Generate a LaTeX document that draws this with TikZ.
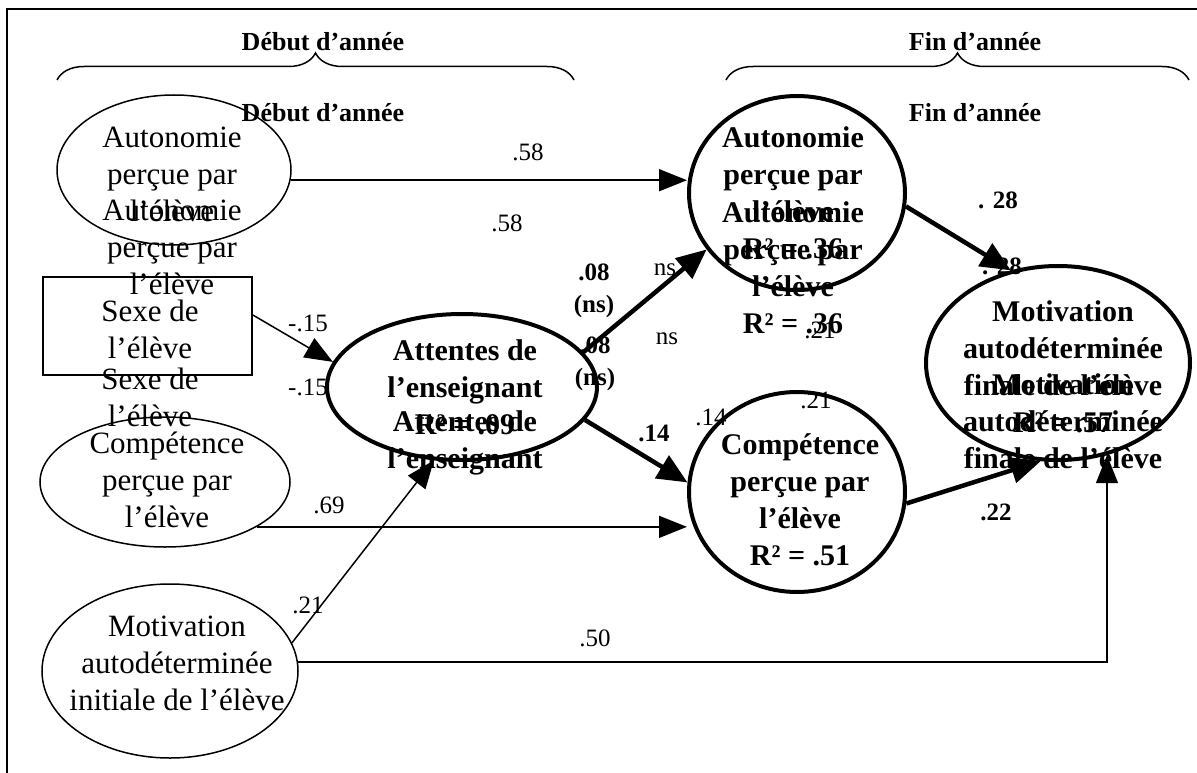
\documentclass[tikz,border=0pt]{standalone}
\usepackage{fontspec}
\setmainfont{Liberation Serif}
\usetikzlibrary{arrows.meta,decorations.pathreplacing,shapes.geometric}
\begin{document}
\begin{tikzpicture}[x=1pt,y=-1pt,
  reg/.style={font=\fontsize{31}{37}\selectfont, align=center, inner sep=0pt},
  bld/.style={font=\bfseries\fontsize{30}{37}\selectfont, align=center, inner sep=0pt},
  lab/.style={font=\fontsize{25}{30}\selectfont, inner sep=0pt},
  blab/.style={font=\bfseries\fontsize{25}{32}\selectfont, align=center, inner sep=0pt},
  hdr/.style={font=\bfseries\fontsize{26}{30}\selectfont, inner sep=0pt},
  oval/.style={ellipse, draw, line width=1.5pt, inner sep=0pt},
  boldoval/.style={ellipse, draw, line width=4pt, inner sep=0pt},
  thinarrow/.style={line width=1.5pt, -{Triangle[length=28pt,width=22pt]}},
  thickarrow/.style={line width=4.5pt, -{Triangle[length=30pt,width=26pt]}},
  bracepath/.style={decorate, decoration={brace, amplitude=27pt}, line width=1.5pt},
]
\useasboundingbox (0,0) rectangle (1197,773);

% frame (top and left edges)
\draw[line width=2pt] (7,773) -- (7,9) -- (1197,9);

% period headers and braces
\node[hdr] (hdebut) at (323,42) {Début d’année};
\node[hdr] (hfin) at (975,42) {Fin d’année};
\draw[bracepath] (57,80) -- (574,80);
\draw[bracepath] (726,80) -- (1189,80);
\node[hdr] (hdebutb) at (323,113) {Début d’année};
\node[hdr] (hfinb) at (975,113) {Fin d’année};

% shapes
\node[oval, minimum width=234pt, minimum height=150pt] (a1) at (174,170) {};
\node[draw, line width=1.5pt, minimum width=209pt, minimum height=98pt, inner sep=0pt] (sx) at (147.5,326) {};
\node[oval, minimum width=250pt, minimum height=130pt] (c1) at (165,482) {};
\node[oval, minimum width=256pt, minimum height=174pt] (m1) at (170,671) {};
\node[boldoval, minimum width=270pt, minimum height=146pt] (at) at (462,387) {};
\node[boldoval, minimum width=216pt, minimum height=194pt] (a2) at (797,193) {};
\node[boldoval, minimum width=216pt, minimum height=200pt] (c2) at (797,492) {};
\node[boldoval, minimum width=264pt, minimum height=194pt] (m2) at (1058,363) {};

% node texts
\node[reg] (ta1) at (172,174) {Autonomie\\perçue par\\l’élève};
\node[reg] (ta1b) at (172,247) {Autonomie\\perçue par\\l’élève};
\node[reg] (tsx) at (150,329) {Sexe de\\l’élève};
\node[reg] (tsxb) at (150,397) {Sexe de\\l’élève};
\node[reg] (tc1) at (167,480) {Compétence\\perçue par\\l’élève};
\node[reg] (tm1) at (177,663) {Motivation\\autodéterminée\\initiale de l’élève};

\node[bld] (ta2) at (793,193) {Autonomie\\perçue par\\l’élève\\R² = .36};
\node[bld] (ta2b) at (793,268) {Autonomie\\perçue par\\l’élève\\R² = .36};
\node[bld] (tat) at (465,387) {Attentes de\\l’enseignant\\R² = .09};
\node[bld] (tatb) at (465,443) {Attentes de\\l’enseignant};
\node[bld] (tc2) at (800,500) {Compétence\\perçue par\\l’élève\\R² = .51};
\node[bld] (tm2) at (1063,367) {Motivation\\autodéterminée\\finale de l’élève\\R² = .57};
\node[bld] (tm2b) at (1063,421) {Motivation\\autodéterminée\\finale de l’élève};

% path coefficients
\node[lab] (l58) at (528,152) {.58};
\node[lab] (l58b) at (507,223) {.58};
\node[lab] (l15) at (308,323) {-.15};
\node[lab] (l15b) at (308,387) {-.15};
\node[lab] (l69) at (329,505) {.69};
\node[lab] (l21a) at (308,605) {.21};
\node[lab] (l50) at (595,638) {.50};
\node[lab] (lns) at (665,270) {ns};
\node[lab] (lnsb) at (667,339) {ns};
\node[lab] (l14) at (711,417) {.14};
\node[lab] (l21) at (820,330) {.21};
\node[lab] (l21b) at (816,400) {.21};
\node[blab] (l08) at (594,291) {.08\\(ns)};
\node[blab] (l08b) at (595,364) {.08\\(ns)};
\node[blab] (l14b) at (654,433) {.14};
\node[blab] (l28) at (998,200) {. 28};
\node[blab] (l28b) at (1002,266) {. 28};
\node[blab] (l22) at (996,512) {.22};

% paths
\draw[thinarrow] (a1.-5.4) -- (a2.west |- a1.-5.4);
\draw[thinarrow] (sx.6) -- (at.169);
\draw[thinarrow] (c1.-26.6) -- (c2.west |- c1.-26.6);
\draw[thinarrow] (m1.13.3) -- (at.249.4);
\draw[thinarrow] (m1.4) -| (m2.-62.6);
\draw[thickarrow] (at.16.1) -- (a2.212.5);
\draw[thickarrow] (at.-15) -- (c2.175.4);
\draw[thickarrow] (a2.-7.2) -- (m2.117.5);
\draw[thickarrow] (c2.-6.8) -- (m2.-100.5);
\end{tikzpicture}
\end{document}
